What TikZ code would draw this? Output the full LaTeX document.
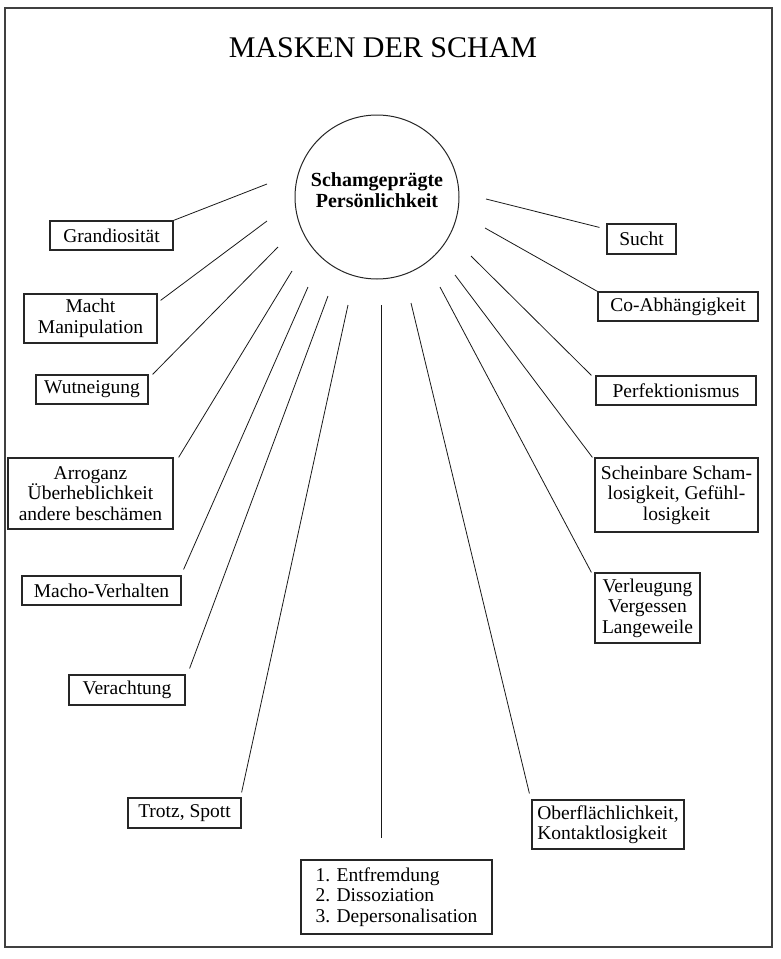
\documentclass[tikz,border=0pt]{standalone}
\usepackage{fontspec}
\setmainfont{Liberation Serif}
\usetikzlibrary{positioning}

\begin{document}
\begin{tikzpicture}[
    x=1pt, y=-1pt,
    mask/.style={draw=black!85, line width=1.2pt, align=center, inner sep=2pt,
                 font=\fontsize{19.5}{20.5}\selectfont},
    spoke/.style={black!90, line width=0.8pt}]

  \useasboundingbox (0,0) rectangle (780,959);
  \draw[black!75, line width=1.2pt] (5,8) rectangle (772,947);

  % === Title and centre ===
  \node[font=\fontsize{30}{32}\selectfont] (title) at (383,48) {MASKEN DER SCHAM};
  \node[draw=black!85, circle, line width=1pt, minimum size=164pt, inner sep=0pt,
        font=\fontsize{20}{21}\selectfont\bfseries, align=center] (core) at (377,197)
        {Schamgeprägte\\Persönlichkeit\\[-8pt]};

  % === Left column ===
  \node[mask, minimum width=123pt, minimum height=29pt] (gran) at (111.5,235.5) {Grandiosität};
  \node[mask, minimum width=133pt, minimum height=49pt] (macht) at (90.5,318.5) {Macht\\Manipulation};
  \node[mask, minimum width=112pt, minimum height=29pt] (wut) at (92,389.5) {Wutneigung};
  \node[mask, minimum width=165pt, minimum height=71pt] (arro) at (90.5,493.5) {Arroganz\\Überheblichkeit\\andere beschämen};
  \node[mask, minimum width=159pt, minimum height=29pt] (macho) at (101.5,590.5) {Macho-Verhalten};
  \node[mask, minimum width=116pt, minimum height=30pt] (verach) at (127,690) {Verachtung};
  \node[mask, minimum width=113pt, minimum height=30pt] (trotz) at (184.5,813) {Trotz, Spott};

  % === Bottom ===
  \node[mask, align=left, minimum width=191pt, minimum height=74pt] (entf) at (396.5,897)
        {1. Entfremdung\\2. Dissoziation\\3. Depersonalisation};

  % === Right column ===
  \node[mask, align=left, minimum width=152pt, minimum height=49pt] (ober) at (608,824.5)
        {Oberflächlichkeit,\\Kontaktlosigkeit};
  \node[mask, minimum width=105pt, minimum height=70pt] (verl) at (647.5,608) {Verleugung\\Vergessen\\Langeweile};
  \node[mask, minimum width=163pt, minimum height=74pt] (schein) at (676.5,495)
        {Scheinbare Scham-\\losigkeit, Gefühl-\\losigkeit};
  \node[mask, minimum width=160pt, minimum height=29pt] (perf) at (676,390.5) {Perfektionismus};
  \node[mask, minimum width=160pt, minimum height=29pt] (co) at (678,306.5) {Co-Abhängigkeit};
  \node[mask, minimum width=69pt, minimum height=30pt] (sucht) at (641.5,239) {Sucht};

  % === Spoke starts (round the circle) ===
  \coordinate (s-gran) at (267,184);
  \coordinate (s-macht) at (267,221);
  \coordinate (s-wut) at (278,247);
  \coordinate (s-arro) at (292,271);
  \coordinate (s-macho) at (308,287);
  \coordinate (s-verach) at (328,296);
  \coordinate (s-trotz) at (348,305);
  \coordinate (s-entf) at (381.5,305);
  \coordinate (e-entf) at (381.5,838);
  \coordinate (s-ober) at (411,303);
  \coordinate (s-verl) at (440,287);
  \coordinate (s-schein) at (455,275);
  \coordinate (s-perf) at (471,256);
  \coordinate (s-co) at (485,228);
  \coordinate (s-sucht) at (486,199);

  % === Spokes ===
  \draw[spoke] (s-gran) -- (gran.north east);
  \draw[spoke] (s-macht) -- ([xshift=3pt,yshift=-7pt]macht.north east);
  \draw[spoke] (s-wut) -- ([xshift=4pt]wut.north east);
  \draw[spoke] (s-arro) -- ([xshift=5pt]arro.north east);
  \draw[spoke] (s-macho) -- ([xshift=2pt,yshift=6pt]macho.north east);
  \draw[spoke] (s-verach) -- ([xshift=4pt,yshift=6pt]verach.north east);
  \draw[spoke] (s-trotz) -- ([yshift=5pt]trotz.north east);
  \draw[spoke] (s-entf) -- (e-entf);
  \draw[spoke] (s-ober) -- ([xshift=-2pt,yshift=6pt]ober.north west);
  \draw[spoke] (s-verl) -- ([xshift=-3pt]verl.north west);
  \draw[spoke] (s-schein) -- ([xshift=-2pt]schein.north west);
  \draw[spoke] (s-perf) -- ([xshift=-4pt]perf.north west);
  \draw[spoke] (s-co) -- (co.north west);
  \draw[spoke] (s-sucht) -- ([xshift=-7pt,yshift=-4pt]sucht.north west);

\end{tikzpicture}
\end{document}
